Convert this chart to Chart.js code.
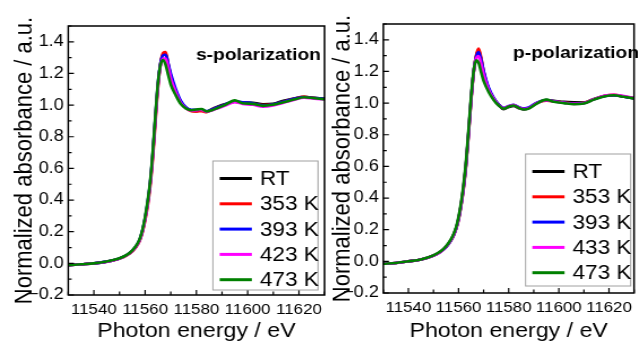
<!DOCTYPE html>
<html>
<head>
<meta charset="utf-8">
<script src="https://cdn.jsdelivr.net/npm/chart.js@4/dist/chart.umd.min.js"></script>
<style>
  html, body { margin: 0; padding: 0; background: #fff; overflow: hidden; }
  .panel { position: absolute; top: 0; transform-origin: 0 0; transform: scaleX(1.13); }
</style>
</head>
<body>
<div class="panel" style="left:0px"><canvas id="sChart" width="292" height="342"></canvas></div>
<div class="panel" style="left:318px"><canvas id="pChart" width="284" height="342"></canvas></div>
<script>
// photon energy (eV), shared by all spectra
var energy = [11530, 11535, 11540, 11545, 11550, 11553, 11555, 11557, 11558, 11559, 11560,
  11561, 11562, 11563, 11564, 11565, 11566, 11567, 11568, 11569, 11570, 11572, 11574, 11576,
  11578, 11580, 11582, 11584, 11586, 11588, 11591, 11595, 11598, 11602, 11606, 11610, 11614,
  11618, 11622, 11626, 11630];

// s-polarization
var sRT  = [-0.012, -0.006, 0.000, 0.011, 0.031, 0.054, 0.079, 0.120, 0.154, 0.207, 0.284,
  0.382, 0.510, 0.692, 0.918, 1.128, 1.262, 1.322, 1.322, 1.255, 1.185, 1.085, 1.018, 0.982,
  0.966, 0.962, 0.970, 0.958, 0.975, 0.988, 1.005, 1.022, 1.016, 1.015, 1.005, 1.008, 1.028,
  1.042, 1.052, 1.046, 1.040];
var s353 = [-0.012, -0.006, 0.000, 0.010, 0.030, 0.052, 0.076, 0.115, 0.148, 0.198, 0.270,
  0.365, 0.490, 0.665, 0.890, 1.110, 1.260, 1.330, 1.335, 1.260, 1.180, 1.080, 1.015, 0.980,
  0.962, 0.960, 0.962, 0.955, 0.972, 0.985, 1.002, 1.022, 1.015, 1.010, 1.000, 1.005, 1.022,
  1.040, 1.052, 1.045, 1.040];
var s393 = [-0.012, -0.006, 0.000, 0.011, 0.031, 0.054, 0.080, 0.122, 0.156, 0.210, 0.288,
  0.387, 0.515, 0.700, 0.925, 1.135, 1.265, 1.315, 1.318, 1.265, 1.200, 1.100, 1.025, 0.985,
  0.970, 0.970, 0.972, 0.962, 0.972, 0.985, 1.003, 1.025, 1.018, 1.012, 0.998, 1.006, 1.022,
  1.040, 1.050, 1.045, 1.040];
var s423 = [-0.012, -0.006, 0.000, 0.010, 0.030, 0.053, 0.078, 0.118, 0.152, 0.204, 0.280,
  0.378, 0.505, 0.685, 0.910, 1.120, 1.250, 1.295, 1.295, 1.240, 1.170, 1.080, 1.012, 0.978,
  0.966, 0.968, 0.970, 0.958, 0.966, 0.978, 0.995, 1.018, 1.008, 1.002, 0.990, 0.998, 1.015,
  1.032, 1.047, 1.040, 1.036];
var s473 = [-0.012, -0.006, 0.000, 0.012, 0.032, 0.055, 0.082, 0.125, 0.160, 0.215, 0.295,
  0.395, 0.525, 0.710, 0.935, 1.140, 1.255, 1.285, 1.255, 1.190, 1.130, 1.060, 1.005, 0.978,
  0.968, 0.972, 0.975, 0.960, 0.968, 0.980, 1.000, 1.030, 1.012, 1.008, 0.995, 1.003, 1.018,
  1.035, 1.050, 1.043, 1.038];

// p-polarization
var pRT  = [-0.015, -0.010, 0.000, 0.011, 0.037, 0.063, 0.092, 0.136, 0.166, 0.208, 0.270,
  0.356, 0.470, 0.618, 0.815, 1.025, 1.195, 1.295, 1.330, 1.280, 1.195, 1.090, 1.030, 0.990,
  0.962, 0.975, 0.982, 0.968, 0.960, 0.968, 0.998, 1.020, 1.015, 1.008, 1.005, 1.004, 1.026,
  1.045, 1.050, 1.040, 1.030];
var p353 = [-0.015, -0.010, 0.000, 0.011, 0.036, 0.062, 0.090, 0.132, 0.162, 0.203, 0.262,
  0.348, 0.458, 0.605, 0.800, 1.010, 1.190, 1.300, 1.345, 1.290, 1.200, 1.090, 1.030, 0.990,
  0.968, 0.980, 0.988, 0.972, 0.965, 0.970, 1.000, 1.015, 1.012, 1.005, 0.998, 1.002, 1.025,
  1.045, 1.052, 1.042, 1.032];
var p393 = [-0.015, -0.010, 0.000, 0.011, 0.036, 0.062, 0.090, 0.133, 0.163, 0.205, 0.266,
  0.352, 0.465, 0.612, 0.810, 1.020, 1.195, 1.290, 1.322, 1.275, 1.205, 1.100, 1.035, 0.992,
  0.970, 0.982, 0.990, 0.975, 0.966, 0.972, 1.002, 1.020, 1.012, 1.003, 0.996, 1.000, 1.024,
  1.044, 1.050, 1.041, 1.031];
var p433 = [-0.015, -0.010, 0.000, 0.011, 0.036, 0.063, 0.092, 0.135, 0.166, 0.208, 0.270,
  0.358, 0.472, 0.620, 0.818, 1.025, 1.190, 1.280, 1.298, 1.250, 1.180, 1.085, 1.028, 0.988,
  0.968, 0.980, 0.987, 0.972, 0.962, 0.968, 0.998, 1.018, 1.010, 1.002, 0.995, 0.999, 1.024,
  1.046, 1.053, 1.044, 1.034];
var p473 = [-0.015, -0.010, 0.000, 0.012, 0.038, 0.065, 0.095, 0.140, 0.172, 0.215, 0.280,
  0.370, 0.485, 0.635, 0.835, 1.040, 1.200, 1.270, 1.255, 1.195, 1.140, 1.070, 1.020, 0.985,
  0.965, 0.978, 0.985, 0.970, 0.960, 0.965, 0.995, 1.022, 1.008, 1.000, 0.993, 0.998, 1.022,
  1.042, 1.050, 1.040, 1.030];

var sLabels = ['RT', '353 K', '393 K', '423 K', '473 K'];
var pLabels = ['RT', '353 K', '393 K', '433 K', '473 K'];
var colors = ['#000000', '#ff0000', '#0000ff', '#ff00ff', '#008000'];

// tick labels
var xTicks = [11540, 11560, 11580, 11600, 11620];
var yTicks = [-0.2, 0.0, 0.2, 0.4, 0.6, 0.8, 1.0, 1.2, 1.4];

Chart.defaults.font.family = '"Liberation Sans", Arial, sans-serif';
Chart.defaults.color = '#000';

// frame, inward ticks, panel label and legend box
var decorPlugin = {
  id: 'decor',
  afterDraw: function(chart) {
    var ctx = chart.ctx;
    var a = chart.chartArea;
    var x = chart.scales.x, y = chart.scales.y;
    var cfg = chart.options.plugins.decor;
    ctx.save();
    ctx.strokeStyle = '#000';
    ctx.lineWidth = 1.5;
    ctx.strokeRect(a.left, a.top, a.right - a.left, a.bottom - a.top);

    ctx.lineWidth = 1.2;
    ctx.beginPath();
    for (var e = 11530; e <= 11630; e += 10) {
      var px = x.getPixelForValue(e);
      var len = (e % 20 === 0) ? 5 : 3.5;
      ctx.moveTo(px, a.bottom);
      ctx.lineTo(px, a.bottom - len);
    }
    for (var k = -2; k <= 15; k++) {
      var py = y.getPixelForValue(k / 10);
      var l2 = (k % 2 === 0) ? 5 : 3;
      ctx.moveTo(a.left, py);
      ctx.lineTo(a.left + l2, py);
    }
    ctx.stroke();

    ctx.font = 'bold 17px "Liberation Sans", Arial, sans-serif';
    ctx.fillStyle = '#000';
    ctx.textBaseline = 'middle';
    ctx.textAlign = 'left';
    ctx.fillText(cfg.label, a.left + cfg.labelX, a.top + 29);

    // legend
    var bw = 93;
    var bx = a.right - cfg.legendGap - bw;
    var by = cfg.legendTop;
    ctx.fillStyle = '#fff';
    ctx.fillRect(bx, by, bw, cfg.legendH);
    ctx.strokeStyle = '#a0a0a0';
    ctx.lineWidth = 1;
    ctx.strokeRect(bx, by, bw, cfg.legendH);
    ctx.font = '20px "Liberation Sans", Arial, sans-serif';
    chart.data.datasets.forEach(function(ds, i) {
      var ry = by + 17.5 + i * 25.3;
      ctx.strokeStyle = ds.borderColor;
      ctx.lineWidth = 3;
      ctx.beginPath();
      ctx.moveTo(bx + 6, ry);
      ctx.lineTo(bx + 34.5, ry);
      ctx.stroke();
      ctx.fillStyle = '#000';
      ctx.fillText(ds.label, bx + 41.5, ry + 1);
    });
    ctx.restore();
  }
};

function makeChart(id, series, labels, cfg) {
  var datasets = series.map(function(vals, i) {
    return {
      label: labels[i],
      data: vals.map(function(v, j) { return { x: energy[j], y: v }; }),
      borderColor: colors[i],
      borderWidth: 2.6,
      pointRadius: 0,
      cubicInterpolationMode: 'monotone',
      order: series.length - i
    };
  });
  return new Chart(document.getElementById(id).getContext('2d'), {
    type: 'line',
    data: { datasets: datasets },
    plugins: [decorPlugin],
    options: {
      responsive: false,
      animation: false,
      devicePixelRatio: 1,
      layout: { padding: { top: cfg.top, right: cfg.padRight, left: 0, bottom: 0 } },
      plugins: {
        legend: { display: false },
        tooltip: { enabled: false },
        decor: cfg
      },
      scales: {
        x: {
          type: 'linear',
          min: 11530,
          max: 11630,
          grid: { display: false, drawTicks: false },
          border: { display: false },
          afterBuildTicks: function(s) {
            s.ticks = xTicks.map(function(v) { return { value: v }; });
          },
          ticks: {
            padding: 6,
            font: { size: 15 },
            maxRotation: 0,
            autoSkip: false,
            callback: function(v) { return String(v); }
          },
          title: {
            display: true,
            text: 'Photon energy / eV',
            font: { size: 20.5, lineHeight: 1 },
            padding: { top: 0, bottom: 0 }
          },
          afterFit: function(s) { s.height = cfg.xAxisH; }
        },
        y: {
          min: -0.2,
          max: 1.5,
          grid: { display: false, drawTicks: false },
          border: { display: false },
          afterBuildTicks: function(s) {
            s.ticks = yTicks.map(function(v) { return { value: v }; });
          },
          ticks: {
            padding: 4,
            font: { size: 16 },
            autoSkip: false,
            callback: function(v) {
              if (Math.abs(v) < 1e-9) return '0.0';
              return v.toFixed(1).replace('-', '\u2212');
            }
          },
          title: {
            display: true,
            text: 'Normalized absorbance / a.u.',
            font: { size: 22, lineHeight: 1 },
            padding: { top: 10.5, bottom: 0 }
          },
          afterFit: function(s) { s.width = cfg.yAxisW; }
        }
      }
    }
  });
}

makeChart('sChart', [sRT, s353, s393, s423, s473], sLabels, {
  top: 26, padRight: 4.8, xAxisH: 47, yAxisW: 60.4,
  label: 's-polarization', labelX: 113,
  legendGap: 5.8, legendTop: 161, legendH: 129
});
makeChart('pChart', [pRT, p353, p393, p433, p473], pLabels, {
  top: 24, padRight: 2, xAxisH: 49, yAxisW: 57.8,
  label: 'p-polarization', labelX: 114.8,
  legendGap: 3, legendTop: 154, legendH: 132
});
</script>
</body>
</html>
